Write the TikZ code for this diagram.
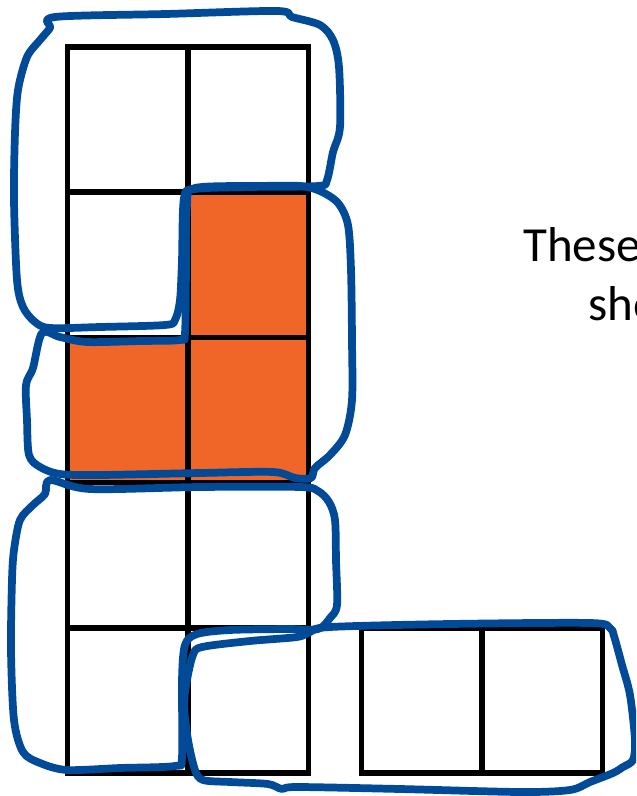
\documentclass[tikz,border=0pt]{standalone}
\usepackage{fontspec}
\setmainfont{Carlito}
\usetikzlibrary{positioning}
\definecolor{tileorange}{RGB}{240,101,40}
\definecolor{groupblue}{RGB}{0,74,152}

\begin{document}
\begin{tikzpicture}[
    x=0.75pt, y=-0.75pt,
    node distance=0pt,
    cell/.style={rectangle, draw=black, line width=4.1pt, minimum width=90.4pt, minimum height=108.9pt, inner sep=0pt, outer sep=0pt},
    filled/.style={cell, fill=tileorange},
    groupline/.style={draw=groupblue, line width=5.8pt, line join=round, line cap=round},
    notetext/.style={font=\fontsize{36.75}{44}\selectfont, anchor=base west, inner sep=0pt}
  ]
    \useasboundingbox (0,0) rectangle (636,796);
    \clip (0,0) rectangle (636,796);

    % Column of cells
    \node[cell] (c11) at (127.5,119.6) {};
    \node[cell, right=of c11] (c12) {};
    \node[cell, below=of c11] (c21) {};
    \node[filled, right=of c21] (c22) {};
    \node[filled, below=of c21] (c31) {};
    \node[filled, right=of c31] (c32) {};
    \node[cell, below=of c31] (c41) {};
    \node[cell, right=of c41] (c42) {};
    \node[cell, below=of c41] (c51) {};
    \node[cell, right=of c51] (c52) {};

    % Separate pair
    \node[cell, right=39.75pt of c52] (r1) {};
    \node[cell, right=of r1] (r2) {};

    % Hand-drawn groups
    \draw[groupline] plot[smooth cycle, tension=0.5] coordinates {
      (55,17) (166,14) (277,11) (292,17) (320,25) (333,40) (339,67) (340,127)
      (333,152) (327,180) (318,186) (250,187) (195,189) (184,198) (182,260)
      (180,300) (175,320) (165,325) (100,327) (50,328) (35,322) (23,307)
      (17,280) (14,200) (15,133) (18,90) (27,57) (40,40) (50,28)};
    \draw[groupline] plot[smooth cycle, tension=0.5] coordinates {
      (195,188) (260,186) (300,186) (320,191) (338,203) (348,225) (351,270)
      (352,340) (352,400) (345,435) (330,455) (315,468) (311,478) (295,478)
      (273,472) (200,473) (100,475) (60,474) (40,467) (29,455) (27,420)
      (26,385) (33,368) (42,333) (60,337) (87,342) (140,341) (180,340)
      (185,333) (186,270) (187,205)};
    \draw[groupline] plot[smooth cycle, tension=0.5] coordinates {
      (50,480) (90,489) (200,487) (300,487) (318,491) (329,502) (335,520)
      (336,560) (337,605) (330,618) (318,629) (287,629) (230,630) (197,634)
      (185,645) (182,680) (182,757) (175,766) (120,768) (67,770) (40,763)
      (23,752) (14,720) (11,650) (12,580) (14,550) (20,520) (33,505) (45,494)};
    \draw[groupline] plot[smooth cycle, tension=0.5] coordinates {
      (202,647) (250,641) (297,637) (310,632) (330,627) (450,624) (590,623)
      (610,628) (614,636) (622,665) (630,695) (635,740) (633,760) (623,767)
      (613,773) (590,782) (570,790) (520,792) (400,789) (297,787) (282,789)
      (268,784) (230,782) (203,780) (195,770) (188,740) (184,705) (187,680)
      (193,655)};

    % Text at the edge
    \node[notetext] (these) at (523,261) {These};
    \node[notetext] (sho) at (588,320) {sho};
\end{tikzpicture}
\end{document}
